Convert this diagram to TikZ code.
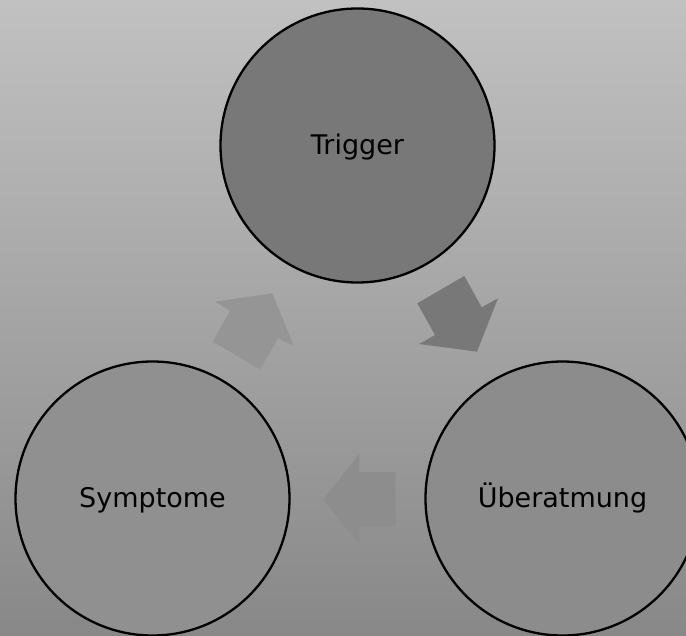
\documentclass[tikz,border=0pt]{standalone}
\usepackage{fontspec}
\setmainfont{DejaVu Sans}
\definecolor{bgtop}{HTML}{C1C1C1}
\definecolor{bgbot}{HTML}{888888}
\definecolor{trigfill}{HTML}{787878}
\definecolor{symfill}{HTML}{909090}
\definecolor{uebfill}{HTML}{8C8C8C}
\definecolor{arrA}{HTML}{787878}
\definecolor{arrB}{HTML}{8D8D8D}
\definecolor{arrC}{HTML}{959595}
\begin{document}
\begin{tikzpicture}[x=1pt,y=-1pt,
  phase/.style={circle, draw=black, line width=2.3pt, minimum size=274pt, inner sep=0pt,
    font=\fontsize{27}{30}\selectfont, text=black, text height=18pt, text depth=0pt}]
\useasboundingbox (0,0) rectangle (686,636);
\shade[top color=bgtop, bottom color=bgbot] (0,0) rectangle (686,636);
% block arrows
\fill[arrA] (417.3,303.3) -- (464.3,276) -- (481.7,307.3) -- (498,298.3) -- (477,351.7) -- (419.3,344) -- (435,335) -- cycle;
\fill[arrB] (323.3,499.3) -- (359.3,454) -- (359.3,472) -- (395.7,472) -- (395.7,526.7) -- (359.3,526.7) -- (359.3,544.3) -- cycle;
\fill[arrC] (215,301.7) -- (272.3,293.3) -- (293.7,346) -- (278.3,338.3) -- (260,369.3) -- (212.7,341.7) -- (230,310.7) -- cycle;
% circles
\node[phase, fill=trigfill] (trigger) at (357.5,145.5) {Trigger};
\node[phase, fill=symfill] (symptome) at (152.5,498.5) {Symptome};
\node[phase, fill=uebfill] (ueber) at (562.5,498.5) {Überatmung};
\end{tikzpicture}
\end{document}
